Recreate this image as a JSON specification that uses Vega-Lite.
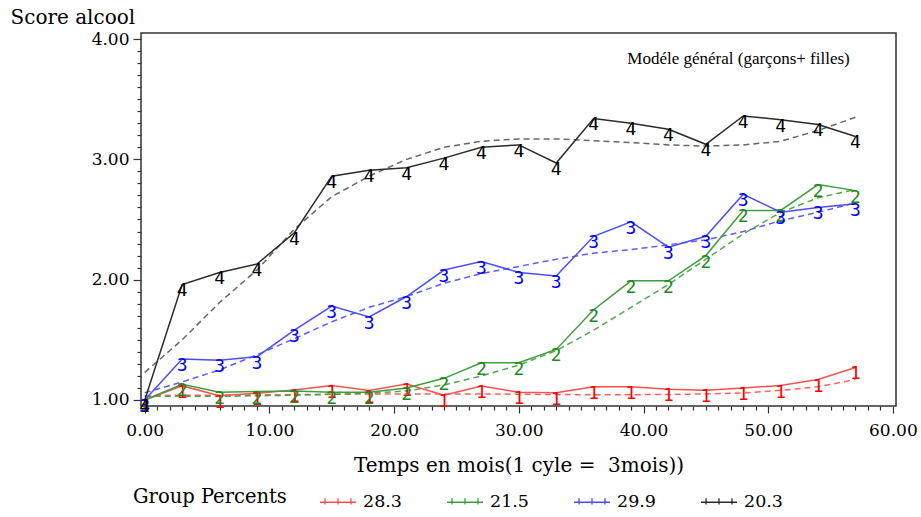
{
  "$schema": "https://vega.github.io/schema/vega-lite/v6.json",
  "width": 755,
  "height": 373,
  "autosize": "none",
  "padding": {"left": 141, "top": 33, "right": 25, "bottom": 111},
  "background": "white",
  "config": {
    "view": {"stroke": "#333333", "strokeWidth": 1.5},
    "font": "DejaVu Serif"
  },
  "datasets": {
    "series": [
      {"group": "1", "kind": "obs", "month": 0, "score": 1.0},
      {"group": "1", "kind": "obs", "month": 3, "score": 1.117},
      {"group": "1", "kind": "obs", "month": 6, "score": 1.036},
      {"group": "1", "kind": "obs", "month": 9, "score": 1.056},
      {"group": "1", "kind": "obs", "month": 12, "score": 1.083},
      {"group": "1", "kind": "obs", "month": 15, "score": 1.12},
      {"group": "1", "kind": "obs", "month": 18, "score": 1.078},
      {"group": "1", "kind": "obs", "month": 21, "score": 1.133},
      {"group": "1", "kind": "obs", "month": 24, "score": 1.04},
      {"group": "1", "kind": "obs", "month": 27, "score": 1.117},
      {"group": "1", "kind": "obs", "month": 30, "score": 1.064},
      {"group": "1", "kind": "obs", "month": 33, "score": 1.06},
      {"group": "1", "kind": "obs", "month": 36, "score": 1.11},
      {"group": "1", "kind": "obs", "month": 39, "score": 1.11},
      {"group": "1", "kind": "obs", "month": 42, "score": 1.09},
      {"group": "1", "kind": "obs", "month": 45, "score": 1.08},
      {"group": "1", "kind": "obs", "month": 48, "score": 1.10},
      {"group": "1", "kind": "obs", "month": 51, "score": 1.12},
      {"group": "1", "kind": "obs", "month": 54, "score": 1.17},
      {"group": "1", "kind": "obs", "month": 57, "score": 1.27},
      {"group": "1", "kind": "fit", "month": 0, "score": 1.035},
      {"group": "1", "kind": "fit", "month": 3, "score": 1.04},
      {"group": "1", "kind": "fit", "month": 6, "score": 1.04},
      {"group": "1", "kind": "fit", "month": 9, "score": 1.042},
      {"group": "1", "kind": "fit", "month": 12, "score": 1.045},
      {"group": "1", "kind": "fit", "month": 15, "score": 1.047},
      {"group": "1", "kind": "fit", "month": 18, "score": 1.05},
      {"group": "1", "kind": "fit", "month": 21, "score": 1.05},
      {"group": "1", "kind": "fit", "month": 24, "score": 1.05},
      {"group": "1", "kind": "fit", "month": 27, "score": 1.05},
      {"group": "1", "kind": "fit", "month": 30, "score": 1.048},
      {"group": "1", "kind": "fit", "month": 33, "score": 1.045},
      {"group": "1", "kind": "fit", "month": 36, "score": 1.044},
      {"group": "1", "kind": "fit", "month": 39, "score": 1.044},
      {"group": "1", "kind": "fit", "month": 42, "score": 1.046},
      {"group": "1", "kind": "fit", "month": 45, "score": 1.05},
      {"group": "1", "kind": "fit", "month": 48, "score": 1.058},
      {"group": "1", "kind": "fit", "month": 51, "score": 1.08},
      {"group": "1", "kind": "fit", "month": 54, "score": 1.11},
      {"group": "1", "kind": "fit", "month": 57, "score": 1.17},
      {"group": "2", "kind": "obs", "month": 0, "score": 1.0},
      {"group": "2", "kind": "obs", "month": 3, "score": 1.13},
      {"group": "2", "kind": "obs", "month": 6, "score": 1.064},
      {"group": "2", "kind": "obs", "month": 9, "score": 1.07},
      {"group": "2", "kind": "obs", "month": 12, "score": 1.075},
      {"group": "2", "kind": "obs", "month": 15, "score": 1.064},
      {"group": "2", "kind": "obs", "month": 18, "score": 1.064},
      {"group": "2", "kind": "obs", "month": 21, "score": 1.10},
      {"group": "2", "kind": "obs", "month": 24, "score": 1.18},
      {"group": "2", "kind": "obs", "month": 27, "score": 1.31},
      {"group": "2", "kind": "obs", "month": 30, "score": 1.31},
      {"group": "2", "kind": "obs", "month": 33, "score": 1.42},
      {"group": "2", "kind": "obs", "month": 36, "score": 1.75},
      {"group": "2", "kind": "obs", "month": 39, "score": 1.99},
      {"group": "2", "kind": "obs", "month": 42, "score": 1.99},
      {"group": "2", "kind": "obs", "month": 45, "score": 2.20},
      {"group": "2", "kind": "obs", "month": 48, "score": 2.575},
      {"group": "2", "kind": "obs", "month": 51, "score": 2.575},
      {"group": "2", "kind": "obs", "month": 54, "score": 2.79},
      {"group": "2", "kind": "obs", "month": 57, "score": 2.74},
      {"group": "2", "kind": "fit", "month": 0, "score": 1.03},
      {"group": "2", "kind": "fit", "month": 3, "score": 1.03},
      {"group": "2", "kind": "fit", "month": 6, "score": 1.03},
      {"group": "2", "kind": "fit", "month": 9, "score": 1.035},
      {"group": "2", "kind": "fit", "month": 12, "score": 1.04},
      {"group": "2", "kind": "fit", "month": 15, "score": 1.047},
      {"group": "2", "kind": "fit", "month": 18, "score": 1.057},
      {"group": "2", "kind": "fit", "month": 21, "score": 1.075},
      {"group": "2", "kind": "fit", "month": 24, "score": 1.125},
      {"group": "2", "kind": "fit", "month": 27, "score": 1.20},
      {"group": "2", "kind": "fit", "month": 30, "score": 1.29},
      {"group": "2", "kind": "fit", "month": 33, "score": 1.41},
      {"group": "2", "kind": "fit", "month": 36, "score": 1.58},
      {"group": "2", "kind": "fit", "month": 39, "score": 1.77},
      {"group": "2", "kind": "fit", "month": 42, "score": 1.96},
      {"group": "2", "kind": "fit", "month": 45, "score": 2.17},
      {"group": "2", "kind": "fit", "month": 48, "score": 2.38},
      {"group": "2", "kind": "fit", "month": 51, "score": 2.56},
      {"group": "2", "kind": "fit", "month": 54, "score": 2.68},
      {"group": "2", "kind": "fit", "month": 57, "score": 2.75},
      {"group": "3", "kind": "obs", "month": 0, "score": 1.0},
      {"group": "3", "kind": "obs", "month": 3, "score": 1.34},
      {"group": "3", "kind": "obs", "month": 6, "score": 1.33},
      {"group": "3", "kind": "obs", "month": 9, "score": 1.36},
      {"group": "3", "kind": "obs", "month": 12, "score": 1.58},
      {"group": "3", "kind": "obs", "month": 15, "score": 1.78},
      {"group": "3", "kind": "obs", "month": 18, "score": 1.69},
      {"group": "3", "kind": "obs", "month": 21, "score": 1.86},
      {"group": "3", "kind": "obs", "month": 24, "score": 2.08},
      {"group": "3", "kind": "obs", "month": 27, "score": 2.15},
      {"group": "3", "kind": "obs", "month": 30, "score": 2.06},
      {"group": "3", "kind": "obs", "month": 33, "score": 2.03},
      {"group": "3", "kind": "obs", "month": 36, "score": 2.36},
      {"group": "3", "kind": "obs", "month": 39, "score": 2.48},
      {"group": "3", "kind": "obs", "month": 42, "score": 2.27},
      {"group": "3", "kind": "obs", "month": 45, "score": 2.36},
      {"group": "3", "kind": "obs", "month": 48, "score": 2.71},
      {"group": "3", "kind": "obs", "month": 51, "score": 2.56},
      {"group": "3", "kind": "obs", "month": 54, "score": 2.60},
      {"group": "3", "kind": "obs", "month": 57, "score": 2.63},
      {"group": "3", "kind": "fit", "month": 0, "score": 1.06},
      {"group": "3", "kind": "fit", "month": 3, "score": 1.15},
      {"group": "3", "kind": "fit", "month": 6, "score": 1.25},
      {"group": "3", "kind": "fit", "month": 9, "score": 1.375},
      {"group": "3", "kind": "fit", "month": 12, "score": 1.51},
      {"group": "3", "kind": "fit", "month": 15, "score": 1.65},
      {"group": "3", "kind": "fit", "month": 18, "score": 1.77},
      {"group": "3", "kind": "fit", "month": 21, "score": 1.86},
      {"group": "3", "kind": "fit", "month": 24, "score": 1.97},
      {"group": "3", "kind": "fit", "month": 27, "score": 2.05},
      {"group": "3", "kind": "fit", "month": 30, "score": 2.11},
      {"group": "3", "kind": "fit", "month": 33, "score": 2.17},
      {"group": "3", "kind": "fit", "month": 36, "score": 2.22},
      {"group": "3", "kind": "fit", "month": 39, "score": 2.25},
      {"group": "3", "kind": "fit", "month": 42, "score": 2.29},
      {"group": "3", "kind": "fit", "month": 45, "score": 2.33},
      {"group": "3", "kind": "fit", "month": 48, "score": 2.40},
      {"group": "3", "kind": "fit", "month": 51, "score": 2.49},
      {"group": "3", "kind": "fit", "month": 54, "score": 2.56},
      {"group": "3", "kind": "fit", "month": 57, "score": 2.64},
      {"group": "4", "kind": "obs", "month": 0, "score": 1.0},
      {"group": "4", "kind": "obs", "month": 3, "score": 1.96},
      {"group": "4", "kind": "obs", "month": 6, "score": 2.06},
      {"group": "4", "kind": "obs", "month": 9, "score": 2.13},
      {"group": "4", "kind": "obs", "month": 12, "score": 2.39},
      {"group": "4", "kind": "obs", "month": 15, "score": 2.86},
      {"group": "4", "kind": "obs", "month": 18, "score": 2.91},
      {"group": "4", "kind": "obs", "month": 21, "score": 2.93},
      {"group": "4", "kind": "obs", "month": 24, "score": 3.01},
      {"group": "4", "kind": "obs", "month": 27, "score": 3.10},
      {"group": "4", "kind": "obs", "month": 30, "score": 3.12},
      {"group": "4", "kind": "obs", "month": 33, "score": 2.97},
      {"group": "4", "kind": "obs", "month": 36, "score": 3.34},
      {"group": "4", "kind": "obs", "month": 39, "score": 3.30},
      {"group": "4", "kind": "obs", "month": 42, "score": 3.25},
      {"group": "4", "kind": "obs", "month": 45, "score": 3.125},
      {"group": "4", "kind": "obs", "month": 48, "score": 3.36},
      {"group": "4", "kind": "obs", "month": 51, "score": 3.33},
      {"group": "4", "kind": "obs", "month": 54, "score": 3.29},
      {"group": "4", "kind": "obs", "month": 57, "score": 3.19},
      {"group": "4", "kind": "fit", "month": 0, "score": 1.23},
      {"group": "4", "kind": "fit", "month": 3, "score": 1.50},
      {"group": "4", "kind": "fit", "month": 6, "score": 1.81},
      {"group": "4", "kind": "fit", "month": 9, "score": 2.08},
      {"group": "4", "kind": "fit", "month": 12, "score": 2.42},
      {"group": "4", "kind": "fit", "month": 15, "score": 2.69},
      {"group": "4", "kind": "fit", "month": 18, "score": 2.86},
      {"group": "4", "kind": "fit", "month": 21, "score": 3.0},
      {"group": "4", "kind": "fit", "month": 24, "score": 3.10},
      {"group": "4", "kind": "fit", "month": 27, "score": 3.15},
      {"group": "4", "kind": "fit", "month": 30, "score": 3.17},
      {"group": "4", "kind": "fit", "month": 33, "score": 3.17},
      {"group": "4", "kind": "fit", "month": 36, "score": 3.155},
      {"group": "4", "kind": "fit", "month": 39, "score": 3.14},
      {"group": "4", "kind": "fit", "month": 42, "score": 3.12},
      {"group": "4", "kind": "fit", "month": 45, "score": 3.11},
      {"group": "4", "kind": "fit", "month": 48, "score": 3.12},
      {"group": "4", "kind": "fit", "month": 51, "score": 3.15},
      {"group": "4", "kind": "fit", "month": 54, "score": 3.24},
      {"group": "4", "kind": "fit", "month": 57, "score": 3.35}
    ],
    "note": [
      {"label": "Modéle général (garçons+ filles)", "month": 38.7, "score": 3.83}
    ]
  },
  "encoding": {
    "x": {
      "field": "month",
      "type": "quantitative",
      "scale": {"domain": [-0.3, 60.25], "nice": false, "zero": false},
      "axis": {
        "title": "Temps en mois(1 cyle =\u00a0 3mois))",
        "values": [0,1,2,3,4,5,6,7,8,9,10,11,12,13,14,15,16,17,18,19,20,21,22,23,24,25,26,27,28,29,30,31,32,33,34,35,36,37,38,39,40,41,42,43,44,45,46,47,48,49,50,51,52,53,54,55,56,57,58,59,60],
        "labelExpr": "datum.value % 10 === 0 ? format(datum.value, '.2f') : ''",
        "grid": false,
        "domain": false,
        "tickColor": "#333333",
        "tickWidth": 1.2,
        "tickSize": {"condition": {"test": "datum.value % 10 === 0", "value": 7}, "value": 4},
        "labelFont": "DejaVu Serif",
        "labelFontSize": 17,
        "labelColor": "black",
        "labelPadding": 9,
        "labelFlush": false,
        "titleFont": "DejaVu Serif",
        "titleFontSize": 20,
        "titleFontWeight": "normal",
        "titleColor": "black",
        "titleBaseline": "middle",
        "titleY": 59
      }
    },
    "y": {
      "field": "score",
      "type": "quantitative",
      "scale": {"domain": [0.95, 4.05], "nice": false, "zero": false},
      "axis": {
        "title": "Score alcool",
        "values": [1,1.1,1.2,1.3,1.4,1.5,1.6,1.7,1.8,1.9,2,2.1,2.2,2.3,2.4,2.5,2.6,2.7,2.8,2.9,3,3.1,3.2,3.3,3.4,3.5,3.6,3.7,3.8,3.9,4],
        "labelExpr": "abs(datum.value - round(datum.value)) < 0.001 ? format(datum.value, '.2f') : ''",
        "grid": false,
        "domain": false,
        "tickColor": "#333333",
        "tickWidth": 1.2,
        "tickSize": {"condition": {"test": "abs(datum.value - round(datum.value)) < 0.001", "value": 8}, "value": 4},
        "labelFont": "DejaVu Serif",
        "labelFontSize": 17,
        "labelColor": "black",
        "labelPadding": 4,
        "labelFlush": false,
        "titleFont": "DejaVu Serif",
        "titleFontSize": 20,
        "titleFontWeight": "normal",
        "titleColor": "black",
        "titleAngle": 0,
        "titleAlign": "left",
        "titleBaseline": "middle",
        "titleX": -131,
        "titleY": -16
      }
    }
  },
  "layer": [
    {
      "data": {"name": "series"},
      "transform": [{"filter": "datum.kind === 'fit'"}],
      "mark": {"type": "line", "strokeDash": [6, 4], "strokeWidth": 1.5, "opacity": 0.9},
      "encoding": {
        "color": {
          "field": "group",
          "type": "nominal",
          "scale": {"domain": ["1", "2", "3", "4"], "range": ["#ff5050", "#3d9e3d", "#4d4dff", "#555555"]},
          "legend": null
        },
        "detail": {"field": "group"}
      }
    },
    {
      "data": {"name": "series"},
      "transform": [{"filter": "datum.kind === 'obs'"}],
      "mark": {"type": "line", "strokeWidth": 1.5},
      "encoding": {
        "stroke": {
          "field": "group",
          "type": "nominal",
          "scale": {"domain": ["1", "2", "3", "4"], "range": ["#ff5050", "#3d9e3d", "#4d4dff", "#2b2b2b"]},
          "legend": {
            "title": "Group Percents",
            "orient": "none",
            "legendX": -8,
            "legendY": 450,
            "direction": "horizontal",
            "titleOrient": "left",
            "titleFont": "DejaVu Serif",
            "titleFontSize": 19.5,
            "titleFontWeight": "normal",
            "titleColor": "black",
            "titlePadding": 32,
            "titleBaseline": "middle",
            "labelFont": "DejaVu Serif",
            "labelFontSize": 17.5,
            "labelColor": "black",
            "labelOffset": 6,
            "labelExpr": "{'1': '28.3', '2': '21.5', '3': '29.9', '4': '20.3'}[datum.label]",
            "symbolType": "M-1,0H1M-0.72,-0.22V0.12M0,-0.22V0.12M0.72,-0.22V0.12",
            "symbolSize": 1296,
            "symbolStrokeWidth": 1.3,
            "gridAlign": "all",
            "columnPadding": 42,
            "padding": 0
          }
        },
        "detail": {"field": "group"}
      }
    },
    {
      "data": {"name": "series"},
      "transform": [{"filter": "datum.kind === 'obs'"}],
      "mark": {"type": "text", "font": "DejaVu Sans Mono", "fontSize": 18, "baseline": "middle", "align": "center", "dy": 7},
      "encoding": {
        "text": {"field": "group"},
        "fill": {
          "field": "group",
          "type": "nominal",
          "scale": {"domain": ["1", "2", "3", "4"], "range": ["#ff0000", "#1a8a1a", "#0000ff", "#000000"]},
          "legend": null
        }
      }
    },
    {
      "data": {"name": "note"},
      "mark": {"type": "text", "font": "Liberation Serif", "fontSize": 17, "align": "left", "baseline": "middle", "color": "black"},
      "encoding": {
        "text": {"field": "label"}
      }
    }
  ],
  "resolve": {"scale": {"color": "independent", "stroke": "independent", "fill": "independent"}}
}
